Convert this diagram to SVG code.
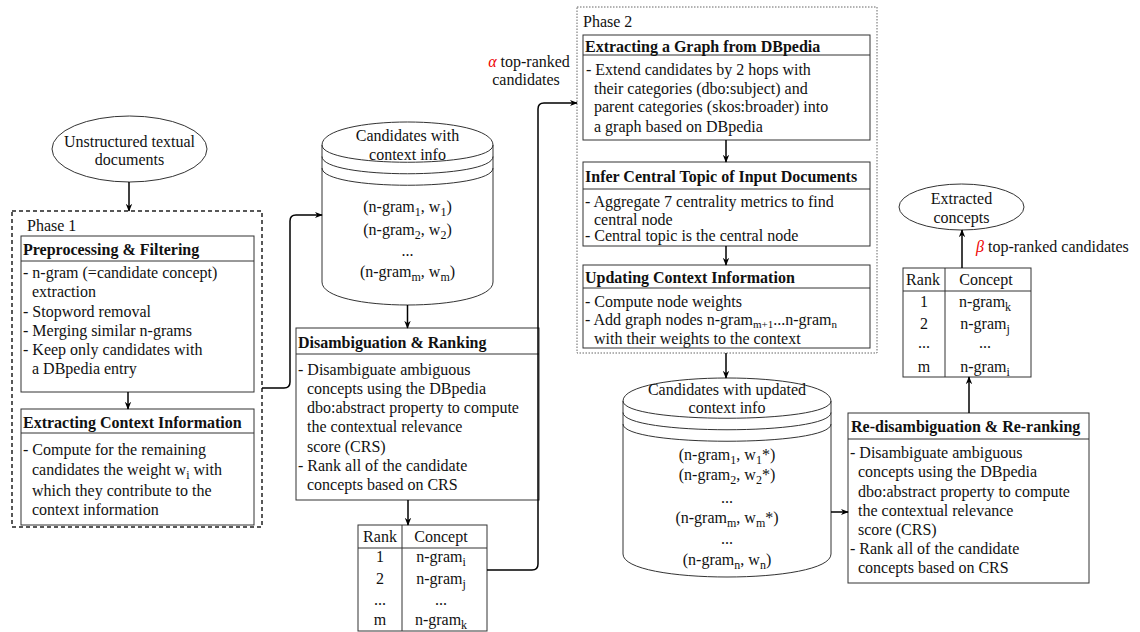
<svg xmlns="http://www.w3.org/2000/svg" width="1140" height="632" viewBox="0 0 1140 632">
<style>
text{font-family:"Liberation Serif","Times New Roman",serif;font-size:16px;fill:#111}
.b{font-weight:bold}
.m{text-anchor:middle}
.s{font-size:12px;baseline-shift:-4px}
.s2{font-size:11px;baseline-shift:-3px}
.box{fill:#fff;stroke:#333;stroke-width:1}
.ln{fill:none;stroke:#333;stroke-width:1}
.edge{fill:none;stroke:#000;stroke-width:1.5;marker-end:url(#ah)}
.red{fill:#e00;font-style:italic}
</style>
<defs>
<marker id="ah" viewBox="0 0 10 10" refX="9" refY="5" markerWidth="8" markerHeight="8" markerUnits="userSpaceOnUse" orient="auto"><path d="M0,1 L10,5 L0,9 L3,5 Z" fill="#000"/></marker>
</defs>
<rect width="1140" height="632" fill="#fff"/>

<g id="input">
<ellipse cx="129.5" cy="149" rx="77.5" ry="33" class="box"/>
<text x="129.5" y="147" class="m">Unstructured textual</text>
<text x="129.5" y="165" class="m">documents</text>
</g>

<g id="phase1">
<rect x="12" y="211" width="250" height="316" fill="none" stroke="#222" stroke-width="1.5" stroke-dasharray="4 3"/>
<text x="27" y="231">Phase 1</text>
</g>

<g id="preprocessing">
<rect x="21" y="236" width="233" height="156" class="box"/>
<line x1="21" y1="261" x2="254" y2="261" class="ln"/>
<text x="23" y="255" class="b">Preprocessing &amp; Filtering</text>
<text x="23" y="278">- n-gram (=candidate concept)</text>
<text x="32" y="297">extraction</text>
<text x="23" y="317">- Stopword removal</text>
<text x="23" y="336">- Merging similar n-grams</text>
<text x="23" y="355">- Keep only candidates with</text>
<text x="32" y="374">a DBpedia entry</text>
</g>

<g id="context">
<rect x="21" y="409" width="233" height="116" class="box"/>
<line x1="21" y1="433" x2="254" y2="433" class="ln"/>
<text x="23" y="428" class="b">Extracting Context Information</text>
<text x="23" y="455">- Compute for the remaining</text>
<text x="32" y="475">candidates the weight w<tspan class="s">i</tspan><tspan> with</tspan></text>
<text x="32" y="496">which they contribute to the</text>
<text x="32" y="515">context information</text>
</g>

<g id="candidates">
<path d="M322,145 C322,114.33 493,114.33 493,145 L493,282 C493,312.67 322,312.67 322,282 Z" class="box"/>
<path d="M322,145 C322,168 493,168 493,145 M322,156.5 C322,179.5 493,179.5 493,156.5 M322,168 C322,191 493,191 493,168" class="ln"/>
<text x="407.5" y="141" class="m">Candidates with</text>
<text x="407.5" y="160" class="m">context info</text>
<text x="407.5" y="212" class="m">(n-gram<tspan class="s">1</tspan><tspan>, w</tspan><tspan class="s">1</tspan><tspan>)</tspan></text>
<text x="407.5" y="235" class="m">(n-gram<tspan class="s">2</tspan><tspan>, w</tspan><tspan class="s">2</tspan><tspan>)</tspan></text>
<text x="407.5" y="256" class="m">...</text>
<text x="407.5" y="277" class="m">(n-gram<tspan class="s">m</tspan><tspan>, w</tspan><tspan class="s">m</tspan><tspan>)</tspan></text>
</g>

<g id="disambiguation">
<rect x="296" y="328" width="243" height="172" class="box"/>
<line x1="296" y1="354" x2="539" y2="354" class="ln"/>
<text x="298" y="348" class="b">Disambiguation &amp; Ranking</text>
<text x="298" y="375">- Disambiguate ambiguous</text>
<text x="307" y="394">concepts using the DBpedia</text>
<text x="307" y="413">dbo:abstract property to compute</text>
<text x="307" y="432">the contextual relevance</text>
<text x="307" y="452">score (CRS)</text>
<text x="298" y="471">- Rank all of the candidate</text>
<text x="307" y="490">concepts based on CRS</text>
</g>

<g id="ranking1">
<rect x="358" y="525" width="129" height="106" class="box"/>
<line x1="358" y1="548" x2="487" y2="548" class="ln"/>
<line x1="402" y1="525" x2="402" y2="631" class="ln"/>
<text x="380" y="542" class="m">Rank</text>
<text x="441" y="542" class="m">Concept</text>
<text x="380" y="562" class="m">1</text>
<text x="441" y="562" class="m">n-gram<tspan class="s">i</tspan></text>
<text x="380" y="584" class="m">2</text>
<text x="441" y="584" class="m">n-gram<tspan class="s">j</tspan></text>
<text x="380" y="605" class="m">...</text>
<text x="441" y="605" class="m">...</text>
<text x="380" y="625" class="m">m</text>
<text x="441" y="625" class="m">n-gram<tspan class="s">k</tspan></text>
</g>

<g id="alpha-label">
<text x="529" y="67" class="m"><tspan class="red">α</tspan> top-ranked</text>
<text x="526" y="85" class="m">candidates</text>
</g>

<g id="phase2">
<rect x="577" y="7" width="300" height="346" fill="none" stroke="#666" stroke-width="1" stroke-dasharray="1.5 1.5"/>
<text x="583" y="27">Phase 2</text>
</g>

<g id="graph">
<rect x="583" y="35" width="287" height="105" class="box"/>
<line x1="583" y1="55" x2="870" y2="55" class="ln"/>
<text x="585" y="52" class="b">Extracting a Graph from DBpedia</text>
<text x="586" y="75">- Extend candidates by 2 hops with</text>
<text x="594" y="94">their categories (dbo:subject) and</text>
<text x="594" y="112">parent categories (skos:broader) into</text>
<text x="594" y="132">a graph based on DBpedia</text>
</g>

<g id="central">
<rect x="583" y="162" width="287" height="84" class="box"/>
<line x1="583" y1="189" x2="870" y2="189" class="ln"/>
<text x="585" y="182" class="b">Infer Central Topic of Input Documents</text>
<text x="585" y="207">- Aggregate 7 centrality metrics to find</text>
<text x="594" y="225">central node</text>
<text x="585" y="241">- Central topic is the central node</text>
</g>

<g id="updating">
<rect x="583" y="265" width="287" height="83" class="box"/>
<line x1="583" y1="288" x2="870" y2="288" class="ln"/>
<text x="585" y="283" class="b">Updating Context Information</text>
<text x="585" y="307">- Compute node weights</text>
<text x="585" y="325">- Add graph nodes n-gram<tspan class="s2">m+1</tspan><tspan>...n-gram</tspan><tspan class="s2">n</tspan></text>
<text x="594" y="344">with their weights to the context</text>
</g>

<g id="updated-candidates">
<path d="M623,401 C623,370.33 831,370.33 831,401 L831,554 C831,584.67 623,584.67 623,554 Z" class="box"/>
<path d="M623,401 C623,424 831,424 831,401 M623,412.5 C623,435.5 831,435.5 831,412.5 M623,424 C623,447 831,447 831,424" class="ln"/>
<text x="727" y="395" class="m">Candidates with updated</text>
<text x="727" y="413" class="m">context info</text>
<text x="727" y="460" class="m">(n-gram<tspan class="s">1</tspan><tspan>, w</tspan><tspan class="s">1</tspan><tspan>*)</tspan></text>
<text x="727" y="480" class="m">(n-gram<tspan class="s">2</tspan><tspan>, w</tspan><tspan class="s">2</tspan><tspan>*)</tspan></text>
<text x="727" y="503" class="m">...</text>
<text x="727" y="523" class="m">(n-gram<tspan class="s">m</tspan><tspan>, w</tspan><tspan class="s">m</tspan><tspan>*)</tspan></text>
<text x="727" y="544" class="m">...</text>
<text x="727" y="565" class="m">(n-gram<tspan class="s">n</tspan><tspan>, w</tspan><tspan class="s">n</tspan><tspan>)</tspan></text>
</g>

<g id="redisambiguation">
<rect x="848" y="413" width="241" height="170" class="box"/>
<line x1="848" y1="439" x2="1089" y2="439" class="ln"/>
<text x="851" y="432" class="b">Re-disambiguation &amp; Re-ranking</text>
<text x="850" y="458">- Disambiguate ambiguous</text>
<text x="858" y="477">concepts using the DBpedia</text>
<text x="858" y="497">dbo:abstract property to compute</text>
<text x="858" y="516">the contextual relevance</text>
<text x="858" y="535">score (CRS)</text>
<text x="850" y="554">- Rank all of the candidate</text>
<text x="858" y="573">concepts based on CRS</text>
</g>

<g id="ranking2">
<rect x="903" y="268" width="128" height="109" class="box"/>
<line x1="903" y1="291" x2="1031" y2="291" class="ln"/>
<line x1="945" y1="268" x2="945" y2="377" class="ln"/>
<text x="923" y="285" class="m">Rank</text>
<text x="986" y="285" class="m">Concept</text>
<text x="924" y="307" class="m">1</text>
<text x="985" y="307" class="m">n-gram<tspan class="s">k</tspan></text>
<text x="924" y="329" class="m">2</text>
<text x="985" y="329" class="m">n-gram<tspan class="s">j</tspan></text>
<text x="924" y="348" class="m">...</text>
<text x="985" y="348" class="m">...</text>
<text x="924" y="372" class="m">m</text>
<text x="985" y="372" class="m">n-gram<tspan class="s">i</tspan></text>
</g>

<g id="output">
<ellipse cx="961.5" cy="207" rx="62.5" ry="23" class="box"/>
<text x="961.5" y="204" class="m">Extracted</text>
<text x="961.5" y="223" class="m">concepts</text>
</g>

<g id="beta-label">
<text x="976" y="252"><tspan class="red">β</tspan> top-ranked candidates</text>
</g>

<g id="connectors">
<path d="M129,182 V211" class="edge"/>
<path d="M128,392 V409" class="edge"/>
<path d="M262,388 H284 Q290,388 290,382 V221 Q290,215 296,215 H322" class="edge"/>
<path d="M407.5,305 V328" class="edge"/>
<path d="M408,500 V525" class="edge"/>
<path d="M487,570 H532 Q538,570 538,564 V109 Q538,103 544,103 H577" class="edge"/>
<path d="M726,140 V162" class="edge"/>
<path d="M726,246 V265" class="edge"/>
<path d="M726,353 V378" class="edge"/>
<path d="M831,512 H848" class="edge"/>
<path d="M969,413 V377" class="edge"/>
<path d="M962,268 V230" class="edge"/>
</g>
</svg>
